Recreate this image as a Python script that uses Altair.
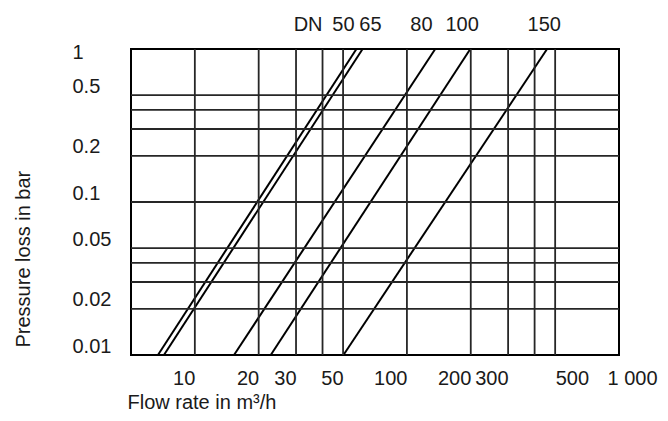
import altair as alt
import pandas as pd

# ---- data ----
dn_sizes = ["50", "65", "80", "100", "150"]
flow_at_min_loss = [6.7, 7.15, 15.3, 22.8, 50.2]      # m3/h at 0.01 bar
flow_at_max_loss = [57.8, 61.8, 136.0, 199.0, 458.0]  # m3/h at 1 bar
loss_ends = [0.01, 1.0]

x_grid = [10, 20, 30, 40, 50, 100, 200, 300, 400, 500]
y_grid = [0.02, 0.03, 0.04, 0.05, 0.1, 0.2, 0.3, 0.4, 0.5]
x_labels = [10, 20, 30, 50, 100, 200, 300, 500, 1000]
y_labels = [0.01, 0.02, 0.05, 0.1, 0.2, 0.5, 1]
top_texts = ["DN", "50", "65", "80", "100", "150"]
top_text_flow = [34.2, 50.2, 67.3, 117, 182, 444]

x_domain = [5, 1000]
y_domain = [0.01, 1]

FONT = "Liberation Sans"
FS = 20
TXT = "#1a1a1a"
GRID = "#262626"

rows = []
for dn, f0, f1 in zip(dn_sizes, flow_at_min_loss, flow_at_max_loss):
    rows.append({"dn": dn, "flow": f0, "loss": loss_ends[0]})
    rows.append({"dn": dn, "flow": f1, "loss": loss_ends[1]})
lines_df = pd.DataFrame(rows)
xgrid_df = pd.DataFrame({"flow": x_grid})
ygrid_df = pd.DataFrame({"loss": y_grid})
top_df = pd.DataFrame({"text": top_texts, "flow": top_text_flow})

xscale = alt.Scale(type="log", domain=x_domain, nice=False)
yscale = alt.Scale(type="log", domain=y_domain, nice=False)

x_axis = alt.Axis(
    values=x_labels, grid=False, ticks=False, tickSize=0, domain=False,
    labelExpr="datum.value == 1000 ? '1 000' : format(datum.value, 'd')",
    labelAlign={"condition": {"test": "datum.value >= 500", "value": "left"}, "value": "right"},
    labelOffset={"condition": {"test": "datum.value == 1000", "value": -12}, "value": 0},
    labelBaseline="top", labelPadding=13, labelFlush=False, labelOverlap=False,
    labelFont=FONT, labelFontSize=FS, labelColor=TXT,
    title="Flow rate in m³/h", titleX=-4, titleY=53, titleAlign="left",
    titleBaseline="alphabetic", titleFont=FONT, titleFontSize=FS,
    titleFontWeight="normal", titleColor=TXT,
)
y_axis = alt.Axis(
    values=y_labels, grid=False, ticks=False, tickSize=0, domain=False,
    labelExpr="format(datum.value, '~g')",
    labelAlign="left", labelPadding=59, labelBaseline="middle",
    labelOffset={"condition": {"test": "datum.value == 1", "value": 3}, "value": -9},
    labelFlush=False, labelOverlap=False,
    labelFont=FONT, labelFontSize=FS, labelColor=TXT,
    title="Pressure loss in bar", titleAngle=270, titleX=-108, titleY=298,
    titleAlign="left", titleBaseline="middle", titleFont=FONT, titleFontSize=FS,
    titleFontWeight="normal", titleColor=TXT,
)

lines = alt.Chart(lines_df).mark_line(color="black", strokeWidth=2).encode(
    x=alt.X("flow:Q", scale=xscale, axis=x_axis),
    y=alt.Y("loss:Q", scale=yscale, axis=y_axis),
    detail="dn:N",
)

vrules = alt.Chart(xgrid_df).mark_rule(color=GRID, strokeWidth=1.8).encode(
    x=alt.X("flow:Q", scale=xscale, axis=x_axis)
)
hrules = alt.Chart(ygrid_df).mark_rule(color=GRID, strokeWidth=1.8).encode(
    y=alt.Y("loss:Q", scale=yscale, axis=y_axis)
)

top_text = alt.Chart(top_df).mark_text(
    font=FONT, fontSize=FS, color=TXT, align="center", baseline="alphabetic"
).encode(
    x=alt.X("flow:Q", scale=xscale, axis=x_axis),
    y=alt.value(-18),
    text="text:N",
)

chart = alt.layer(lines, vrules, hrules, top_text).properties(
    width=488, height=306,
    background="white",
    padding={"left": 123, "top": 41, "right": 41, "bottom": 58},
    autosize=alt.AutoSizeParams(type="none"),
).configure_view(stroke="black", strokeWidth=2)

chart.save("out.html", embed_options={"renderer": "svg", "actions": False})
